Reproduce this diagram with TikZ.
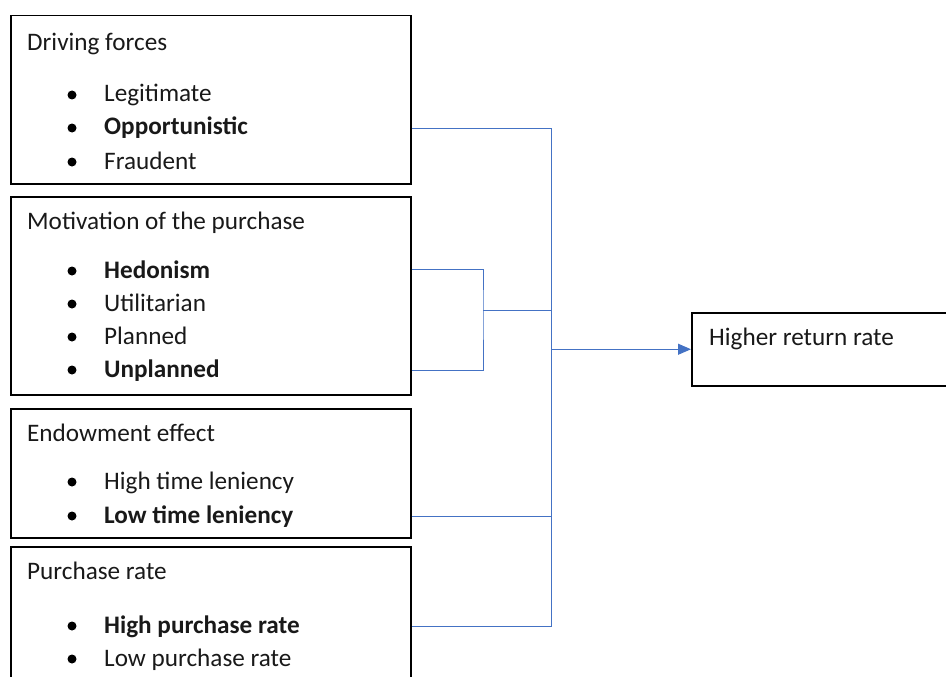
\documentclass[tikz,border=0pt]{standalone}
\usepackage{fontspec}
\setmainfont{Carlito}
\usetikzlibrary{arrows.meta}
\definecolor{linkblue}{RGB}{68,114,196}

\begin{document}
\begin{tikzpicture}[x=1pt, y=-1pt,
    font=\fontsize{25.2}{30}\selectfont,
    box/.style={draw=black, line width=1.5pt, anchor=north west,
                minimum width=400pt, inner sep=0pt},
    head/.style={anchor=base west, inner sep=0pt, text=black!90},
    item/.style={anchor=base west, inner sep=0pt, text=black!90},
    dot/.style={fill=black},
    link/.style={draw=linkblue, line width=1pt},
    arrow/.style={link, -{Triangle[length=13pt, width=11pt]}}
  ]
  \useasboundingbox (0,0) rectangle (946,677);

  % frames
  \node[box, minimum height=168pt] (drive) at (10,15) {};
  \node[box, minimum height=198pt] (motiv) at (10,196) {};
  \node[box, minimum height=129pt] (endow) at (10,408) {};
  \node[box, minimum height=150pt] (rate) at (10,546) {};
  \node[box, minimum width=270pt, minimum height=73pt] (ret) at (691,312) {};

  % driving forces
  \node[head] (h1) at (27,51) {Driving forces};
  \node[item] (leg) at (104,102) {Legitimate};
  \node[item] (opp) at (104,135) {\textbf{Opportunistic}};
  \node[item] (fra) at (104,169) {Fraudent};

  % motivation
  \node[head] (h2) at (27,229) {Motivation of the purchase};
  \node[item] (hed) at (104,278) {\textbf{Hedonism}};
  \node[item] (uti) at (104,311) {Utilitarian};
  \node[item] (pla) at (104,344) {Planned};
  \node[item] (unp) at (104,377) {\textbf{Unplanned}};

  % endowment
  \node[head] (h3) at (27,441) {Endowment effect};
  \node[item] (htl) at (104,489) {High time leniency};
  \node[item] (ltl) at (104,523) {\textbf{Low time leniency}};

  % purchase rate
  \node[head] (h4) at (27,579) {Purchase rate};
  \node[item] (hpr) at (104,633) {\textbf{High purchase rate}};
  \node[item] (lpr) at (104,666) {Low purchase rate};

  \node[head] (h5) at (709,345) {Higher return rate};

  % bullets
  \coordinate (bx) at (72,0);
  \foreach \n in {leg,opp,fra,hed,uti,pla,unp,htl,ltl,hpr,lpr}
    \fill[dot] (\n.base -| bx) ++(0,-7) circle (4.5pt);

  % connectors
  \coordinate (bus) at (551,0);
  \coordinate (join) at (483,310);
  \draw[link] (drive.east |- opp) -| (bus |- hpr) -- (rate.east |- hpr);
  \draw[link] (endow.east |- ltl) -- (bus |- ltl);
  \draw[link] (motiv.east |- hed) -| (join) |- (motiv.east |- unp);
  \draw[link] (join) -- (bus |- join);
  \draw[arrow] (bus |- ret.west) -- (ret.west);
\end{tikzpicture}
\end{document}
